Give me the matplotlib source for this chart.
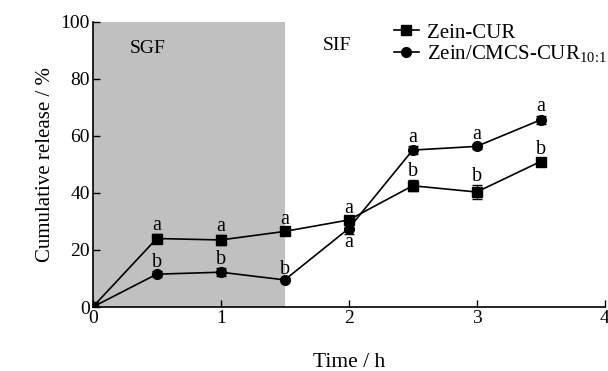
import matplotlib
matplotlib.use("Agg")
import matplotlib.pyplot as plt

plt.rcParams["font.family"] = ["Liberation Serif", "DejaVu Serif"]
plt.rcParams["mathtext.fontset"] = "custom"
plt.rcParams["mathtext.rm"] = "Liberation Serif"

# ── Data ──────────────────────────────────────────────────────────────────────
time = [0, 0.5, 1, 1.5, 2, 2.5, 3, 3.5]
zein_cur = [0, 24.0, 23.5, 26.5, 30.5, 42.5, 40.3, 51.0]
zein_cur_err = [0, 1.5, 1.8, 1.0, 1.0, 2.0, 2.5, 1.2]
zein_cmcs = [0, 11.5, 12.2, 9.5, 27.5, 55.0, 56.3, 65.6]
zein_cmcs_err = [0, 1.0, 1.5, 0.5, 1.8, 1.5, 1.0, 1.5]
letters_cur = ["", "a", "a", "a", "a", "b", "b", "b"]
letters_cmcs = ["", "b", "b", "b", "a", "a", "a", "a"]
cmcs_label_below = [False, False, False, False, True, False, False, False]

fig = plt.figure(figsize=(6.08, 3.71), dpi=100)
ax = fig.add_axes([0.1525, 0.1725, 0.842, 0.769])

ax.axvspan(0, 1.5, color="#c0c0c0", zorder=0, lw=0)

for y, err, mk, lab in [
    (zein_cur, zein_cur_err, "s", "Zein-CUR"),
    (zein_cmcs, zein_cmcs_err, "o", r"Zein/CMCS-CUR$_{\mathregular{10\!:\!1}}$"),
]:
    ax.errorbar(time, y, yerr=err, fmt="none", ecolor="black", capsize=3.5,
                elinewidth=1, capthick=1, zorder=2)
    ax.plot(time, y, color="black", marker=mk, markersize=7, lw=1.2,
            label=lab, zorder=3)

# significance letters
for t, v, e, l in zip(time, zein_cur, zein_cur_err, letters_cur):
    if l:
        ax.text(t, v + e + 1.5, l, ha="center", va="baseline", fontsize=14.5)
for t, v, e, l, below in zip(time, zein_cmcs, zein_cmcs_err, letters_cmcs,
                             cmcs_label_below):
    if not l:
        continue
    if below:
        ax.text(t, v - e - 4.8, l, ha="center", va="baseline", fontsize=14.5)
    else:
        ax.text(t, v + e + 1.5, l, ha="center", va="baseline", fontsize=14.5)

ax.text(0.29, 90.5, "SGF", ha="left", va="center", fontsize=14)
ax.text(1.80, 91.5, "SIF", ha="left", va="center", fontsize=14)

ax.set_xlim(0, 4)
ax.set_ylim(0, 100)
ax.set_xticks([0, 1, 2, 3, 4])
ax.set_yticks([0, 20, 40, 60, 80, 100])
ax.tick_params(direction="in", labelsize=14, length=5, width=1, pad=2)
ax.spines["top"].set_visible(False)
ax.spines["right"].set_visible(False)
for s in ["left", "bottom"]:
    ax.spines[s].set_linewidth(1.2)

ax.set_ylabel("Cumulative release / %", fontsize=15)
ax.set_xlabel("Time / h", fontsize=15.5, labelpad=19)

ax.legend(loc="upper left", bbox_to_anchor=(0.588, 0.995), frameon=False,
          fontsize=15, handlelength=1.2, handletextpad=0.4, labelspacing=0.05,
          borderaxespad=0, borderpad=0)

fig.savefig("out.png", dpi=100)
